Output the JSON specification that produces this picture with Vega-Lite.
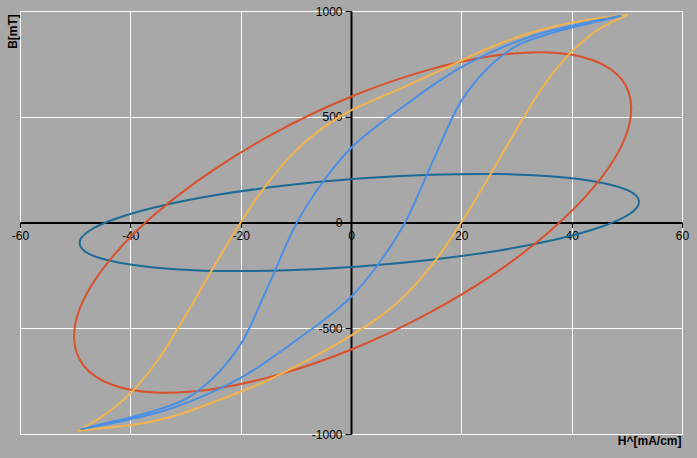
{
  "$schema": "https://vega.github.io/schema/vega-lite/v6.json",
  "width": 662,
  "height": 423,
  "autosize": {"type": "none"},
  "padding": {"left": 20, "top": 11, "right": 15, "bottom": 24},
  "background": "#A8A8A8",
  "config": {"view": {"stroke": "#FFFFFF", "strokeWidth": 1}, "font": "Liberation Sans"},
  "datasets": {
    "ell": [
      {"s":"s1","i":0,"H":52.2,"B":97},{"s":"s1","i":1,"H":50.5,"B":148},{"s":"s1","i":2,"H":45.4,"B":188},{"s":"s1","i":3,"H":37.3,"B":216},
      {"s":"s1","i":4,"H":26.9,"B":229},{"s":"s1","i":5,"H":14.6,"B":226},{"s":"s1","i":6,"H":1.5,"B":208},{"s":"s1","i":7,"H":-11.6,"B":176},
      {"s":"s1","i":8,"H":-23.9,"B":132},{"s":"s1","i":9,"H":-34.3,"B":79},{"s":"s1","i":10,"H":-42.4,"B":20},{"s":"s1","i":11,"H":-47.5,"B":-40},
      {"s":"s1","i":12,"H":-49.2,"B":-97},{"s":"s1","i":13,"H":-47.5,"B":-148},{"s":"s1","i":14,"H":-42.4,"B":-188},{"s":"s1","i":15,"H":-34.3,"B":-216},
      {"s":"s1","i":16,"H":-23.9,"B":-229},{"s":"s1","i":17,"H":-11.6,"B":-226},{"s":"s1","i":18,"H":1.5,"B":-208},{"s":"s1","i":19,"H":14.6,"B":-176},
      {"s":"s1","i":20,"H":26.9,"B":-132},{"s":"s1","i":21,"H":37.3,"B":-79},{"s":"s1","i":22,"H":45.4,"B":-20},{"s":"s1","i":23,"H":50.5,"B":40},
      {"s":"s2","i":0,"H":50.8,"B":539},{"s":"s2","i":1,"H":49.1,"B":675},{"s":"s2","i":2,"H":44.0,"B":766},{"s":"s2","i":3,"H":36.0,"B":804},
      {"s":"s2","i":4,"H":25.6,"B":787},{"s":"s2","i":5,"H":13.4,"B":717},{"s":"s2","i":6,"H":0.3,"B":598},{"s":"s2","i":7,"H":-12.8,"B":438},
      {"s":"s2","i":8,"H":-24.9,"B":249},{"s":"s2","i":9,"H":-35.4,"B":42},{"s":"s2","i":10,"H":-43.4,"B":-167},{"s":"s2","i":11,"H":-48.5,"B":-366},
      {"s":"s2","i":12,"H":-50.2,"B":-539},{"s":"s2","i":13,"H":-48.5,"B":-675},{"s":"s2","i":14,"H":-43.4,"B":-766},{"s":"s2","i":15,"H":-35.4,"B":-804},
      {"s":"s2","i":16,"H":-24.9,"B":-787},{"s":"s2","i":17,"H":-12.8,"B":-717},{"s":"s2","i":18,"H":0.3,"B":-598},{"s":"s2","i":19,"H":13.4,"B":-438},
      {"s":"s2","i":20,"H":25.6,"B":-249},{"s":"s2","i":21,"H":36.0,"B":-42},{"s":"s2","i":22,"H":44.0,"B":167},{"s":"s2","i":23,"H":49.1,"B":366}
    ],
    "hyst": [
      {"s":"s3","b":"d","i":0,"H":50.2,"B":982},{"s":"s3","b":"d","i":1,"H":45,"B":966},{"s":"s3","b":"d","i":2,"H":40,"B":945},{"s":"s3","b":"d","i":3,"H":35,"B":915},
      {"s":"s3","b":"d","i":4,"H":30,"B":875},{"s":"s3","b":"d","i":5,"H":25,"B":825},{"s":"s3","b":"d","i":6,"H":20,"B":765},{"s":"s3","b":"d","i":7,"H":15,"B":705},
      {"s":"s3","b":"d","i":8,"H":10,"B":645},{"s":"s3","b":"d","i":9,"H":5,"B":588},{"s":"s3","b":"d","i":10,"H":0,"B":530},{"s":"s3","b":"d","i":11,"H":-5,"B":450},
      {"s":"s3","b":"d","i":12,"H":-10,"B":340},{"s":"s3","b":"d","i":13,"H":-15,"B":190},{"s":"s3","b":"d","i":14,"H":-20,"B":0},{"s":"s3","b":"d","i":15,"H":-25,"B":-215},
      {"s":"s3","b":"d","i":16,"H":-30,"B":-440},{"s":"s3","b":"d","i":17,"H":-35,"B":-650},{"s":"s3","b":"d","i":18,"H":-40,"B":-808},{"s":"s3","b":"d","i":19,"H":-45,"B":-915},
      {"s":"s3","b":"d","i":20,"H":-49.5,"B":-985},
      {"s":"s3","b":"a","i":0,"H":-49.5,"B":-985},{"s":"s3","b":"a","i":1,"H":-45,"B":-972},{"s":"s3","b":"a","i":2,"H":-40,"B":-958},{"s":"s3","b":"a","i":3,"H":-35,"B":-935},
      {"s":"s3","b":"a","i":4,"H":-30,"B":-898},{"s":"s3","b":"a","i":5,"H":-25,"B":-850},{"s":"s3","b":"a","i":6,"H":-20,"B":-800},{"s":"s3","b":"a","i":7,"H":-15,"B":-745},
      {"s":"s3","b":"a","i":8,"H":-10,"B":-680},{"s":"s3","b":"a","i":9,"H":-5,"B":-610},{"s":"s3","b":"a","i":10,"H":0,"B":-535},{"s":"s3","b":"a","i":11,"H":5,"B":-450},
      {"s":"s3","b":"a","i":12,"H":10,"B":-340},{"s":"s3","b":"a","i":13,"H":15,"B":-190},{"s":"s3","b":"a","i":14,"H":20,"B":0},{"s":"s3","b":"a","i":15,"H":25,"B":215},
      {"s":"s3","b":"a","i":16,"H":30,"B":440},{"s":"s3","b":"a","i":17,"H":35,"B":650},{"s":"s3","b":"a","i":18,"H":40,"B":808},{"s":"s3","b":"a","i":19,"H":45,"B":915},
      {"s":"s3","b":"a","i":20,"H":50.2,"B":982},
      {"s":"s4","b":"d","i":0,"H":49,"B":978},{"s":"s4","b":"d","i":1,"H":45,"B":958},{"s":"s4","b":"d","i":2,"H":40,"B":930},{"s":"s4","b":"d","i":3,"H":35,"B":898},
      {"s":"s4","b":"d","i":4,"H":30,"B":855},{"s":"s4","b":"d","i":5,"H":25,"B":800},{"s":"s4","b":"d","i":6,"H":20,"B":735},{"s":"s4","b":"d","i":7,"H":15,"B":652},
      {"s":"s4","b":"d","i":8,"H":10,"B":558},{"s":"s4","b":"d","i":9,"H":5,"B":462},{"s":"s4","b":"d","i":10,"H":0,"B":352},{"s":"s4","b":"d","i":11,"H":-5,"B":195},
      {"s":"s4","b":"d","i":12,"H":-9.8,"B":0},{"s":"s4","b":"d","i":13,"H":-15,"B":-300},{"s":"s4","b":"d","i":14,"H":-20,"B":-575},{"s":"s4","b":"d","i":15,"H":-25,"B":-735},
      {"s":"s4","b":"d","i":16,"H":-30,"B":-835},{"s":"s4","b":"d","i":17,"H":-35,"B":-885},{"s":"s4","b":"d","i":18,"H":-40,"B":-922},{"s":"s4","b":"d","i":19,"H":-45,"B":-952},
      {"s":"s4","b":"d","i":20,"H":-49,"B":-978},
      {"s":"s4","b":"a","i":0,"H":-49,"B":-978},{"s":"s4","b":"a","i":1,"H":-45,"B":-958},{"s":"s4","b":"a","i":2,"H":-40,"B":-930},{"s":"s4","b":"a","i":3,"H":-35,"B":-898},
      {"s":"s4","b":"a","i":4,"H":-30,"B":-855},{"s":"s4","b":"a","i":5,"H":-25,"B":-800},{"s":"s4","b":"a","i":6,"H":-20,"B":-735},{"s":"s4","b":"a","i":7,"H":-15,"B":-652},
      {"s":"s4","b":"a","i":8,"H":-10,"B":-558},{"s":"s4","b":"a","i":9,"H":-5,"B":-462},{"s":"s4","b":"a","i":10,"H":0,"B":-352},{"s":"s4","b":"a","i":11,"H":5,"B":-195},
      {"s":"s4","b":"a","i":12,"H":9.8,"B":0},{"s":"s4","b":"a","i":13,"H":15,"B":300},{"s":"s4","b":"a","i":14,"H":20,"B":575},{"s":"s4","b":"a","i":15,"H":25,"B":735},
      {"s":"s4","b":"a","i":16,"H":30,"B":835},{"s":"s4","b":"a","i":17,"H":35,"B":885},{"s":"s4","b":"a","i":18,"H":40,"B":922},{"s":"s4","b":"a","i":19,"H":45,"B":952},
      {"s":"s4","b":"a","i":20,"H":49,"B":978}
    ]
  },
  "layer": [
    {
      "data": {"name": "ell"},
      "mark": {"type": "line", "interpolate": "cardinal-closed", "strokeWidth": 2},
      "encoding": {
        "x": {"field": "H", "type": "quantitative", "scale": {"domain": [-60, 60], "nice": false, "zero": false},
          "axis": {"title": "H^[mA/cm]", "values": [-60, -40, -20, 0, 20, 40, 60], "offset": -211.5, "labelExpr": "'' + datum.value",
            "labelFlush": false, "labelOverlap": false, "domainColor": "#000000", "domainWidth": 2, "tickColor": "#000000", "tickSize": 5, "tickWidth": 1,
            "labelColor": "#000000", "labelFontSize": 12, "labelPadding": 3, "labelFont": "Liberation Sans",
            "grid": true, "gridColor": "#FFFFFF", "gridOpacity": 1, "gridWidth": 1,
            "titleFontSize": 12, "titleFontWeight": "bold", "titleColor": "#000000", "titleFont": "Liberation Sans",
            "titleAlign": "right", "titleX": 661, "titleY": 218, "titleBaseline": "middle", "titleAngle": 0}},
        "y": {"field": "B", "type": "quantitative", "scale": {"domain": [-1000, 1000], "nice": false, "zero": false},
          "axis": {"title": "B[mT]", "values": [-1000, -500, 0, 500, 1000], "offset": -331, "labelExpr": "'' + datum.value",
            "labelFlush": false, "labelOverlap": false, "domainColor": "#000000", "domainWidth": 2, "tickColor": "#000000", "tickSize": 6, "tickWidth": 1,
            "labelColor": "#000000", "labelFontSize": 12, "labelPadding": 3, "labelFont": "Liberation Sans",
            "grid": true, "gridColor": "#FFFFFF", "gridOpacity": 1, "gridWidth": 1,
            "titleFontSize": 12, "titleFontWeight": "bold", "titleColor": "#000000", "titleFont": "Liberation Sans",
            "titleAngle": -90, "titleAlign": "center", "titleBaseline": "middle", "titleX": -339, "titleY": 20}},
        "color": {"field": "s", "type": "nominal", "scale": {"domain": ["s1", "s2", "s3", "s4"], "range": ["#1C6B95", "#D9502A", "#F5B44A", "#4A8FE6"]}, "legend": null},
        "order": {"field": "i", "type": "quantitative"}
      }
    },
    {
      "data": {"name": "hyst"},
      "mark": {"type": "line", "interpolate": "catmull-rom", "strokeWidth": 2},
      "encoding": {
        "x": {"field": "H", "type": "quantitative"},
        "y": {"field": "B", "type": "quantitative"},
        "color": {"field": "s", "type": "nominal", "scale": {"domain": ["s1", "s2", "s3", "s4"], "range": ["#1C6B95", "#D9502A", "#F5B44A", "#4A8FE6"]}, "legend": null},
        "detail": {"field": "b", "type": "nominal"},
        "order": {"field": "i", "type": "quantitative"}
      }
    }
  ]
}
